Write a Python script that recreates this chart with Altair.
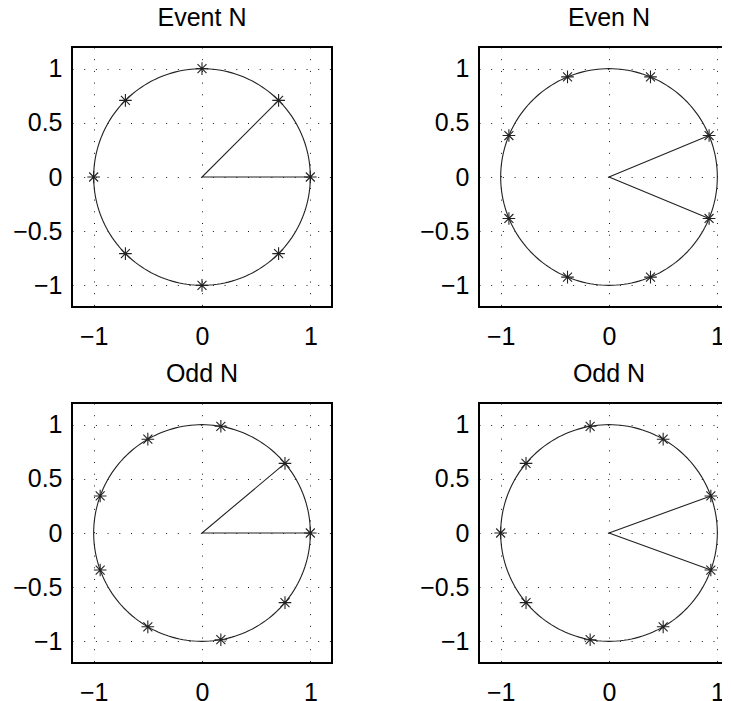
import altair as alt
import pandas as pd

titles = ["Event N", "Even N", "Odd N", "Odd N"]

# star (root) positions
p1_x = [1.0, 0.707, 0.0, -0.707, -1.0, -0.707, 0.0, 0.707]
p1_y = [0.0, 0.707, 1.0, 0.707, 0.0, -0.707, -1.0, -0.707]
p2_x = [0.924, 0.383, -0.383, -0.924, -0.924, -0.383, 0.383, 0.924]
p2_y = [0.383, 0.924, 0.924, 0.383, -0.383, -0.924, -0.924, -0.383]
p3_x = [1.0, 0.766, 0.174, -0.5, -0.94, -0.94, -0.5, 0.174, 0.766]
p3_y = [0.0, 0.643, 0.985, 0.866, 0.342, -0.342, -0.866, -0.985, -0.643]
p4_x = [0.94, 0.5, -0.174, -0.766, -1.0, -0.766, -0.174, 0.5, 0.94]
p4_y = [0.342, 0.866, 0.985, 0.643, 0.0, -0.643, -0.985, -0.866, -0.342]

# wedge lines (end point -> origin -> end point)
r1_x = [0.707, 0.0, 1.0]
r1_y = [0.707, 0.0, 0.0]
r2_x = [0.924, 0.0, 0.924]
r2_y = [0.383, 0.0, -0.383]
r3_x = [0.766, 0.0, 1.0]
r3_y = [0.643, 0.0, 0.0]
r4_x = [0.94, 0.0, 0.94]
r4_y = [0.342, 0.0, -0.342]

x_ticks = [-1, 0, 1]
y_ticks = [-1, -0.5, 0, 0.5, 1]
axis_domain = [-1.2, 1.2]

STAR = "M-1,0L1,0M0,-1L0,1M-0.71,-0.71L0.71,0.71M-0.71,0.71L0.71,-0.71"
INK = "#222222"


def panel(title, sx, sy, rx, ry):
    xs = alt.Scale(domain=axis_domain, nice=False, zero=False)
    ys = alt.Scale(domain=axis_domain, nice=False, zero=False)
    xa = alt.Axis(values=x_ticks, format="~g", title=None, grid=True, labelPadding=17)
    ya = alt.Axis(values=y_ticks, format="~g", title=None, grid=True, labelPadding=10)

    circle = (
        alt.Chart(alt.sequence(0, 361, 2, as_="deg"))
        .transform_calculate(cx="cos(datum.deg*PI/180)", cy="sin(datum.deg*PI/180)")
        .mark_line(color=INK, strokeWidth=1.1)
        .encode(
            x=alt.X("cx:Q", scale=xs, axis=xa),
            y=alt.Y("cy:Q", scale=ys, axis=ya),
            order="deg:Q",
        )
    )
    ray_df = pd.DataFrame({"x": rx, "y": ry, "i": list(range(len(rx)))})
    ray = (
        alt.Chart(ray_df)
        .mark_line(color=INK, strokeWidth=1.1)
        .encode(x=alt.X("x:Q", scale=xs), y=alt.Y("y:Q", scale=ys), order="i:Q")
    )
    star_df = pd.DataFrame({"x": sx, "y": sy})
    stars = (
        alt.Chart(star_df)
        .mark_point(shape=STAR, size=160, filled=False, strokeWidth=1.1, color=INK, opacity=1)
        .encode(x=alt.X("x:Q", scale=xs), y=alt.Y("y:Q", scale=ys))
    )
    return alt.layer(circle, ray, stars).properties(
        width=260,
        height=260,
        title=alt.TitleParams(
            title, frame="group", anchor="middle", baseline="alphabetic", offset=0, dy=4,
            font="Liberation Sans", fontSize=25, fontWeight="normal", color="black",
        ),
    )


c1 = panel(titles[0], p1_x, p1_y, r1_x, r1_y)
c2 = panel(titles[1], p2_x, p2_y, r2_x, r2_y)
c3 = panel(titles[2], p3_x, p3_y, r3_x, r3_y)
c4 = panel(titles[3], p4_x, p4_y, r4_x, r4_y)

chart = (
    alt.concat(c1, c2, c3, c4, columns=2, spacing=alt.RowColnumber(row=96, column=147), bounds="flush")
    .properties(padding={"left": 3, "top": -3, "right": -18, "bottom": 0})
    .configure_view(stroke="black", strokeWidth=2)
    .configure_axis(
        labelFont="Liberation Sans",
        labelFontSize=25,
        labelColor="black",
        domain=False,
        ticks=False,
        gridColor="black",
        gridDash=[1, 10.7],
        gridWidth=1,
        gridOpacity=0.9,
    )
)

chart.save("out.html", embed_options={"renderer": "svg", "actions": False})
